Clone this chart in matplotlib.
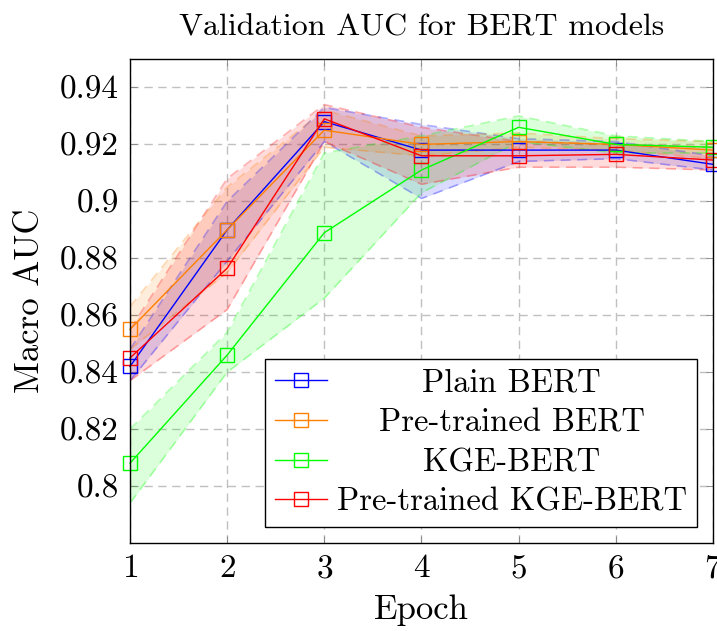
import matplotlib
matplotlib.use('Agg')
import matplotlib.pyplot as plt
from matplotlib.ticker import FuncFormatter

plt.rcParams['font.family'] = 'cmr10'
plt.rcParams['mathtext.fontset'] = 'cm'
plt.rcParams['axes.formatter.use_mathtext'] = True
plt.rcParams['font.size'] = 23

epoch = [1, 2, 3, 4, 5, 6, 7]

plain = [0.842, 0.890, 0.928, 0.918, 0.918, 0.918, 0.913]
plain_lo = [0.837, 0.879, 0.921, 0.901, 0.914, 0.915, 0.911]
plain_hi = [0.848, 0.900, 0.933, 0.927, 0.922, 0.921, 0.916]

pre = [0.855, 0.890, 0.925, 0.920, 0.921, 0.920, 0.918]
pre_lo = [0.848, 0.875, 0.919, 0.916, 0.919, 0.918, 0.915]
pre_hi = [0.863, 0.905, 0.932, 0.923, 0.924, 0.922, 0.921]

kge = [0.808, 0.846, 0.889, 0.911, 0.926, 0.920, 0.919]
kge_lo = [0.794, 0.840, 0.866, 0.903, 0.921, 0.917, 0.917]
kge_hi = [0.820, 0.854, 0.917, 0.923, 0.930, 0.923, 0.921]

pre_kge = [0.845, 0.8765, 0.929, 0.916, 0.916, 0.9165, 0.9145]
pre_kge_lo = [0.837, 0.862, 0.921, 0.906, 0.912, 0.912, 0.911]
pre_kge_hi = [0.855, 0.908, 0.934, 0.926, 0.921, 0.920, 0.919]

names = ['Plain BERT', 'Pre-trained BERT', 'KGE-BERT', 'Pre-trained KGE-BERT']
colors = ['#0000ff', '#ff8000', '#00ff00', '#ff0000']
means = [plain, pre, kge, pre_kge]
lows = [plain_lo, pre_lo, kge_lo, pre_kge_lo]
highs = [plain_hi, pre_hi, kge_hi, pre_kge_hi]

fig = plt.figure(figsize=(7.17, 6.31), dpi=100)
ax = fig.add_axes([0.1813, 0.1395, 0.8131, 0.767])

for lo, hi, c in zip(lows, highs, colors):
    ax.fill_between(epoch, lo, hi, color=c, alpha=0.14, lw=0)
    ax.plot(epoch, lo, color=c, alpha=0.3, lw=1.2, dashes=(6, 4))
    ax.plot(epoch, hi, color=c, alpha=0.3, lw=1.2, dashes=(6, 4))

for m, c, n in zip(means, colors, names):
    ax.plot(epoch, m, color=c, lw=1.0, marker='s', markersize=10,
            markerfacecolor='none', markeredgecolor=c, markeredgewidth=1.0,
            label=n, clip_on=False)

ax.set_xlim(1, 7)
ax.set_ylim(0.78, 0.95)
ax.set_xticks(epoch)
ax.set_yticks([0.8, 0.82, 0.84, 0.86, 0.88, 0.9, 0.92, 0.94])
ax.yaxis.set_major_formatter(FuncFormatter(lambda v, p: '%g' % round(v, 2)))
ax.tick_params(direction='in', length=5, width=0.6, color='#808080',
               top=True, right=True, pad=8, labelsize=24)
ax.grid(True, color='#c0c0c0', lw=1.0, dashes=(6, 4))
ax.set_axisbelow(True)
for s in ax.spines.values():
    s.set_linewidth(1.0)

ax.set_title('Validation AUC for BERT models', pad=17, fontsize=23)
ax.set_xlabel('Epoch', labelpad=8, fontsize=25)
ax.set_ylabel('Macro AUC', labelpad=10, fontsize=25)

leg = ax.legend(loc='lower right', borderaxespad=0.5, fancybox=False,
                edgecolor='black', framealpha=1, handlelength=1.6,
                labelspacing=0.33, borderpad=0.3, handletextpad=0.3,
                fontsize=23.5)
leg.get_frame().set_linewidth(1.0)

# centre the legend labels like pgfplots does
fig.canvas.draw()
texts = leg.get_texts()
widths = [t.get_window_extent().width for t in texts]
wmax = max(widths)
for t, w in zip(texts, widths):
    t.set_x((wmax - w) / 2)

fig.savefig('out.png', dpi=100)
